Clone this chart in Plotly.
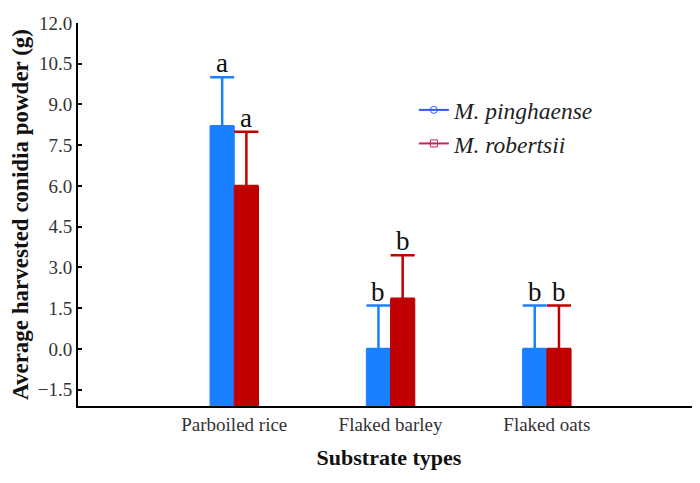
import plotly.graph_objects as go

categories = ["Parboiled rice", "Flaked barley", "Flaked oats"]
series_names = ["M. pinghaense", "M. robertsii"]
pinghaense_mean = [8.2, 0.0, 0.0]
pinghaense_err = [1.8, 1.6, 1.6]
robertsii_mean = [6.0, 1.85, 0.0]
robertsii_err = [2.0, 1.6, 1.6]
pinghaense_letters = ["a", "b", "b"]
robertsii_letters = ["a", "b", "b"]
y_ticks = [-1.5, 0.0, 1.5, 3.0, 4.5, 6.0, 7.5, 9.0, 10.5, 12.0]

Y_MIN, Y_MAX = -2.1, 12.0
BLUE = "#1a80ff"
RED = "#c00000"
SERIF = "Liberation Serif, Times New Roman, serif"

x = list(range(len(categories)))
fig = go.Figure()
for name, means, errs, color in [
    (series_names[0], pinghaense_mean, pinghaense_err, BLUE),
    (series_names[1], robertsii_mean, robertsii_err, RED),
]:
    fig.add_trace(go.Bar(
        x=x, y=[m - Y_MIN for m in means], base=Y_MIN,
        marker=dict(color=color, line=dict(color=color, width=1)),
        error_y=dict(type="data", symmetric=False, array=errs,
                     arrayminus=[0] * len(errs), color=color,
                     thickness=2.5, width=12),
        showlegend=False, name=name,
    ))

# legend entries
fig.add_trace(go.Scatter(x=[None], y=[None], mode="lines+markers",
                         line=dict(color="#3355ff", width=2),
                         marker=dict(symbol="circle-open", size=7, color="#3355ff"),
                         name="<i>" + series_names[0] + "</i>"))
fig.add_trace(go.Scatter(x=[None], y=[None], mode="lines+markers",
                         line=dict(color="#cc2255", width=2),
                         marker=dict(symbol="square-open", size=7, color="#cc2255"),
                         name="<i>" + series_names[1] + "</i>"))

off = 0.0775
for i in x:
    fig.add_annotation(x=i - off, y=pinghaense_mean[i] + pinghaense_err[i],
                       text=pinghaense_letters[i], showarrow=False, yanchor="bottom",
                       yshift=-3, font=dict(family=SERIF, size=27, color="#111"))
    fig.add_annotation(x=i + off, y=robertsii_mean[i] + robertsii_err[i],
                       text=robertsii_letters[i], showarrow=False, yanchor="bottom",
                       yshift=-3, font=dict(family=SERIF, size=27, color="#111"))

fig.update_layout(
    width=692, height=475,
    margin=dict(l=70, r=0, t=15, b=77),
    plot_bgcolor="white", paper_bgcolor="white",
    barmode="group", bargap=0.69, bargroupgap=0,
    font=dict(family=SERIF, color="#222"),
    legend=dict(x=0.54, y=0.83, xanchor="left", yanchor="top",
                font=dict(family=SERIF, size=23.5, color="#222"),
                bgcolor="rgba(0,0,0,0)", itemwidth=30, tracegroupgap=0),
    xaxis=dict(range=[-1, 2.98], tickvals=x, ticktext=categories,
               showline=True, linecolor="black", linewidth=2,
               ticks="", showgrid=False, zeroline=False, automargin=False,
               tickfont=dict(size=19, color="#333"),
               title=dict(text="<b>Substrate types</b>", font=dict(size=22, color="#111"), standoff=16)),
    yaxis=dict(range=[Y_MIN, Y_MAX], tickvals=y_ticks, tickformat=".1f",
               showline=True, linecolor="black", linewidth=2,
               ticks="inside", ticklen=4, tickwidth=2, tickcolor="black",
               showgrid=False, zeroline=False, automargin=False,
               tickfont=dict(size=19, color="#333"),
               title=dict(text="<b>Average harvested conidia powder (g)</b>",
                          font=dict(size=23, color="#111"), standoff=4)),
)

fig.write_html("out.html")
